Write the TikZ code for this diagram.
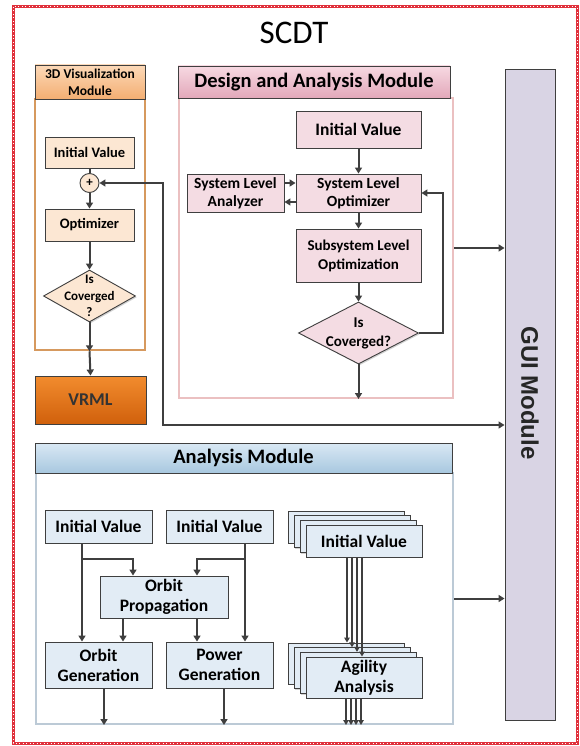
\documentclass[tikz,border=0pt]{standalone}
\usepackage{fontspec}
\setmainfont{Carlito}
\newfontfamily\guifont{Liberation Sans}
\usetikzlibrary{shapes.geometric,arrows.meta,shadows,calc}
\definecolor{edge}{HTML}{3F3F3F}
\definecolor{orangeBox}{HTML}{FCE7D3}
\definecolor{orangeHa}{HTML}{FCD9B8}
\definecolor{orangeHb}{HTML}{F3AE72}
\definecolor{orangeFrame}{HTML}{D6995E}
\definecolor{vrmlA}{HTML}{F28C2E}
\definecolor{vrmlB}{HTML}{D0600C}
\definecolor{pinkBox}{HTML}{F4DCE3}
\definecolor{pinkHa}{HTML}{F7D9E2}
\definecolor{pinkHb}{HTML}{E2A8BA}
\definecolor{pinkFrame}{HTML}{EBC0C1}
\definecolor{guiFill}{HTML}{D9D4E4}
\definecolor{blueBox}{HTML}{E2ECF5}
\definecolor{blueHa}{HTML}{D9E8F4}
\definecolor{blueHb}{HTML}{A8C8DF}
\definecolor{blueFrame}{HTML}{BCCAD6}
\definecolor{borderRed}{HTML}{E0313C}
\newcommand{\myfs}[2]{\fontsize{#1}{#2}\selectfont}
\begin{document}
\begin{tikzpicture}[x=1pt,y=-1pt,
  box/.style={draw=edge, line width=0.9pt, align=center, inner sep=1pt,
    drop shadow={shadow xshift=1.3pt, shadow yshift=-1.3pt, opacity=0.35}},
  frame/.style={fill=white, inner sep=0pt},
  arr/.style={draw=edge, line width=2pt, -{Triangle[length=6pt,width=7pt]}},
  thinarr/.style={draw=edge, line width=1.3pt, -{Triangle[length=5pt,width=5.5pt]}},
  dia/.style={diamond, draw=edge, line width=0.9pt, inner sep=0pt,
    drop shadow={shadow xshift=1.3pt, shadow yshift=-1.3pt, opacity=0.35}},
  txt/.style={align=center, inner sep=0pt}]
\useasboundingbox (0,0) rectangle (579,746);
% outer border
\draw[borderRed, line width=3pt] (13,7) rectangle (577,743);
\draw[white, line width=1pt, dash pattern=on 1pt off 2.5pt] (13,7) rectangle (577,743);
% title
\node[inner sep=0pt, font=\myfs{33}{36}] (title) at (294,33) {SCDT};

% ---------- 3D visualization module ----------
\node[frame, draw=orangeFrame, line width=2.5pt, minimum width=110, minimum height=251] (body3d) at (90,224.5) {};
\node[box, top color=orangeHa, bottom color=orangeHb, minimum width=110, minimum height=34, font={\bfseries\myfs{13.5}{17}}] (h3d) at (90,82) {3D Visualization\\Module};
\node[box, fill=orangeBox, minimum width=89, minimum height=31, font={\bfseries\myfs{14.5}{16}}] (iv3d) at (89.5,152.5) {Initial Value};
\node[circle, draw=edge, line width=0.9pt, fill=orangeBox, minimum size=19, inner sep=0pt, font={\bfseries\myfs{13}{14}}] (plus) at (89.5,183) {+};
\node[box, fill=orangeBox, minimum width=89, minimum height=32, font={\bfseries\myfs{14.5}{16}}] (opt3d) at (89.5,225) {Optimizer};
\node[dia, fill=orangeBox, minimum width=92, minimum height=52] (conv3d) at (89.5,296) {};
\node[txt, font={\bfseries\myfs{13}{16.5}}] (conv3dtxt) at (conv3d.center) {Is\\Coverged\\?};
\node[box, top color=vrmlA, bottom color=vrmlB, minimum width=111, minimum height=48, text=black!80, font={\bfseries\myfs{18}{20}}] (vrml) at (90.5,400) {VRML};

\draw[draw=edge, line width=2pt] (iv3d.south) -- (plus.north);
\draw[arr] (plus.south) -- (opt3d.north);
\draw[arr] (opt3d.south) -- (conv3d.north);
\draw[arr] (conv3d.south) -- (conv3d.south |- body3d.south);
\draw[arr] (conv3d.south |- body3d.south) -- (vrml.north);

% ---------- GUI module ----------
\node[draw=edge, line width=0.9pt, fill=guiFill, minimum width=50, minimum height=651, inner sep=0pt,
  drop shadow={shadow xshift=1.3pt, shadow yshift=-1.3pt, opacity=0.35}] (gui) at (530,394.5) {};
\node[rotate=-90, inner sep=0pt, font={\guifont\bfseries\myfs{24}{26}}, text=black!85] (guitxt) at (530,393) {GUI Module};

% feedback path
\coordinate (fbA) at (163,183);
\coordinate (fbB) at (163,425);
\draw[draw=edge, line width=2pt, {Triangle[length=6pt,width=7pt]}-{Triangle[length=6pt,width=7pt]}]
  (plus.east) -- (fbA) -- (fbB) -- (gui.west |- fbB);

% ---------- Design and Analysis module ----------
\node[frame, draw=pinkFrame, line width=2pt, minimum width=274, minimum height=300] (bodyda) at (316,248) {};
\node[box, top color=pinkHa, bottom color=pinkHb, minimum width=272, minimum height=32, font={\bfseries\myfs{20.5}{22}}] (hda) at (314,82) {Design and Analysis Module};
\node[box, fill=pinkBox, minimum width=125, minimum height=37, font={\bfseries\myfs{17.5}{19}}] (ivda) at (358.5,129.5) {Initial Value};
\node[box, fill=pinkBox, minimum width=125, minimum height=38, font={\bfseries\myfs{15.5}{18}}] (slo) at (358.5,193) {System Level\\Optimizer};
\node[box, fill=pinkBox, minimum width=97, minimum height=38, font={\bfseries\myfs{15.5}{18}}] (sla) at (235.5,193) {System Level\\Analyzer};
\node[box, fill=pinkBox, minimum width=125, minimum height=53, font={\bfseries\myfs{15}{19}}] (sso) at (358.5,255.5) {Subsystem Level\\Optimization};
\node[dia, fill=pinkBox, minimum width=120, minimum height=62] (convda) at (358.5,333) {};
\node[txt, font={\bfseries\myfs{15}{19}}] (convdatxt) at (convda.center) {Is\\Coverged?};

\draw[arr] (ivda.south) -- (slo.north);
\draw[arr] (slo.south) -- (sso.north);
\draw[arr] (sso.south) -- (convda.north);
\draw[arr] ([yshift=10pt]sla.east) -- ([yshift=10pt]slo.west);
\draw[arr] ([yshift=-9pt]slo.west) -- ([yshift=-9pt]sla.east);
\coordinate (loopc) at (443,193);
\draw[arr] (convda.east) -| (loopc) -- (slo.east);
\draw[arr] (convda.south) -- (convda.south |- bodyda.south);
\draw[arr] (bodyda.east) -- (gui.west |- bodyda.east);

% ---------- Analysis module ----------
\node[frame, draw=blueFrame, line width=2pt, minimum width=417, minimum height=251] (bodya) at (244.5,598.5) {};
\node[box, top color=blueHa, bottom color=blueHb, minimum width=417, minimum height=30, font={\bfseries\myfs{20.5}{22}}] (ha) at (243.5,458) {Analysis Module};
\node[box, fill=blueBox, minimum width=107, minimum height=33, font={\bfseries\myfs{17.5}{19}}] (iv1) at (98.5,526.5) {Initial Value};
\node[box, fill=blueBox, minimum width=107, minimum height=33, font={\bfseries\myfs{17.5}{19}}] (iv2) at (219.5,526.5) {Initial Value};
\node[box, fill=blueBox, minimum width=128, minimum height=42, font={\bfseries\myfs{17.5}{20}}] (op) at (164,597) {Orbit\\Propagation};
\node[box, fill=blueBox, minimum width=107, minimum height=46, font={\bfseries\myfs{17.5}{20}}] (og) at (98.5,665) {Orbit\\Generation};
\node[box, fill=blueBox, minimum width=107, minimum height=46, font={\bfseries\myfs{17.5}{20}}] (pg) at (219.5,665) {Power\\Generation};
% stacked initial values
\node[box, fill=blueBox, minimum width=116, minimum height=32] (ivs3) at (346,527) {};
\node[box, fill=blueBox, minimum width=116, minimum height=32] (ivs2) at (352,531.6) {};
\node[box, fill=blueBox, minimum width=116, minimum height=32] (ivs1) at (358,536.3) {};
\node[box, fill=blueBox, minimum width=116, minimum height=32, font={\bfseries\myfs{17.5}{19}}] (ivs0) at (364,541) {Initial Value};
% stacked agility analysis
\node[box, fill=blueBox, minimum width=116, minimum height=41] (ag3) at (346,663.5) {};
\node[box, fill=blueBox, minimum width=116, minimum height=41] (ag2) at (352,668.2) {};
\node[box, fill=blueBox, minimum width=116, minimum height=41] (ag1) at (358,672.8) {};
\node[box, fill=blueBox, minimum width=116, minimum height=41, font={\bfseries\myfs{17.5}{20}}] (ag0) at (364,677.5) {Agility\\Analysis};

% connectors
\coordinate (brA) at (0,559);
\draw[arr] ([xshift=-16.5pt]iv1.south) -- ([xshift=-16.5pt]iv1.south |- og.north);
\draw[arr] ([xshift=-16.5pt]iv1.south |- brA) -| ([xshift=-31pt]op.north);
\draw[arr] ([xshift=25.5pt]iv2.south) -- ([xshift=25.5pt]iv2.south |- pg.north);
\draw[arr] ([xshift=25.5pt]iv2.south |- brA) -| ([xshift=33pt]op.north);
\draw[arr] ([xshift=-41pt]op.south) -- ([xshift=-41pt]op.south |- og.north);
\draw[arr] ([xshift=33pt]op.south) -- ([xshift=33pt]op.south |- pg.north);
\draw[arr] ([xshift=5.5pt]og.south) -- ([xshift=5.5pt]og.south |- bodya.south);
\draw[arr] ([xshift=4.5pt]pg.south) -- ([xshift=4.5pt]pg.south |- bodya.south);
\draw[thinarr] ([xshift=-17pt]ivs0.south) -- ([xshift=-17pt]ivs0.south |- ag3.north);
\draw[thinarr] ([xshift=-12pt]ivs0.south) -- ([xshift=-12pt]ivs0.south |- ag2.north);
\draw[thinarr] ([xshift=-7pt]ivs0.south) -- ([xshift=-7pt]ivs0.south |- ag1.north);
\draw[thinarr] ([xshift=-2pt]ivs0.south) -- ([xshift=-2pt]ivs0.south |- ag0.north);
\draw[thinarr] ([xshift=-18pt]ag0.south) -- ([xshift=-18pt]ag0.south |- bodya.south);
\draw[thinarr] ([xshift=-13pt]ag0.south) -- ([xshift=-13pt]ag0.south |- bodya.south);
\draw[thinarr] ([xshift=-8pt]ag0.south) -- ([xshift=-8pt]ag0.south |- bodya.south);
\draw[thinarr] ([xshift=-3pt]ag0.south) -- ([xshift=-3pt]ag0.south |- bodya.south);
\draw[arr] (bodya.east) -- (gui.west |- bodya.east);
\end{tikzpicture}
\end{document}
